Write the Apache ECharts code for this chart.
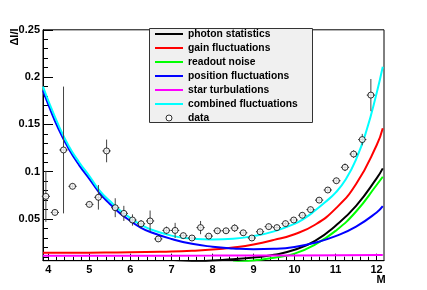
<!DOCTYPE html>
<html><head><meta charset="utf-8">
<script src="https://cdn.jsdelivr.net/npm/echarts@6/dist/echarts.min.js"></script>
<style>html,body{margin:0;padding:0;background:#fff}#c{width:427px;height:290px}</style>
</head><body><div id="c"></div>
<script>
// Curves: [M, ΔI/I]
const photonStats = [[7.0,0.0035],[7.5,0.0046],[8.0,0.0062],[8.5,0.0075],[9.0,0.0093],[9.5,0.0122],[10.0,0.0175],[10.5,0.027],[11.0,0.043],[11.5,0.064],[12.0,0.093],[12.15,0.1036]];
const gainFluct = [[3.87,0.0143],[5.0,0.0145],[6.0,0.0148],[7.0,0.0158],[7.5,0.0166],[8.0,0.0178],[8.5,0.020],[9.0,0.0232],[9.5,0.028],[10.0,0.034],[10.5,0.044],[11.0,0.061],[11.5,0.087],[12.0,0.128],[12.15,0.146]];
const readoutNoise = [[8.5,0.0042],[9.0,0.0063],[9.5,0.009],[10.0,0.0135],[10.5,0.023],[11.0,0.0375],[11.5,0.058],[12.0,0.086],[12.15,0.0947]];
const positionFluct = [[3.87,0.186],[4.0,0.171],[4.25,0.145],[4.5,0.124],[4.75,0.107],[5.0,0.0925],[5.25,0.0775],[5.5,0.066],[5.75,0.056],[6.0,0.048],[6.25,0.041],[6.5,0.036],[7.0,0.029],[7.5,0.0238],[8.0,0.0208],[8.5,0.019],[9.0,0.018],[9.5,0.0185],[10.0,0.0205],[10.5,0.025],[11.0,0.032],[11.5,0.042],[12.0,0.057],[12.15,0.0637]];
const starTurb = [[3.87,0.0112],[6.0,0.0113],[8.0,0.0114],[10.0,0.0116],[12.15,0.0119]];
const combinedFluct = [[3.87,0.190],[4.0,0.175],[4.25,0.149],[4.5,0.127],[4.75,0.110],[5.0,0.0955],[5.25,0.080],[5.5,0.069],[5.75,0.059],[6.0,0.051],[6.25,0.044],[6.5,0.039],[7.0,0.0325],[7.5,0.0292],[8.0,0.0285],[8.5,0.0292],[9.0,0.032],[9.5,0.037],[10.0,0.045],[10.25,0.051],[10.5,0.059],[10.75,0.068],[11.0,0.078],[11.25,0.092],[11.5,0.113],[11.75,0.143],[12.0,0.183],[12.15,0.211]];

// Measured data
const dataM   = [3.94,4.16,4.37,4.59,5.00,5.22,5.42,5.63,5.84,6.05,6.26,6.48,6.68,6.88,7.09,7.29,7.50,7.71,7.91,8.12,8.33,8.54,8.75,8.96,9.16,9.37,9.57,9.78,9.98,10.19,10.39,10.60,10.81,11.02,11.23,11.44,11.65,11.86];
const dataV   = [0.074,0.057,0.123,0.0846,0.0655,0.073,0.122,0.062,0.056,0.049,0.045,0.048,0.029,0.038,0.038,0.0325,0.030,0.041,0.032,0.0376,0.0376,0.0405,0.0355,0.030,0.0366,0.042,0.041,0.0452,0.049,0.054,0.060,0.070,0.0807,0.0905,0.1047,0.1187,0.134,0.181];
const dataErr = [0.027,0.003,0.067,0.003,0.003,0.013,0.012,0.010,0.008,0.006,0.004,0.011,0.003,0.004,0.008,0.003,0.003,0.007,0.003,0.003,0.003,0.004,0.003,0.003,0.003,0.003,0.003,0.003,0.003,0.003,0.003,0.003,0.003,0.003,0.004,0.004,0.006,0.017];
const dataXErr = 0.1;

// Axes / ticks
const xMajor = [4,5,6,7,8,9,10,11,12];
const xMinor = []; for (let i = 0; i <= 40; i++) xMinor.push(Math.round((4 + i*0.2)*10)/10);
const yMajor = [0.05,0.1,0.15,0.2,0.25];
const yMinor = []; for (let i = 1; i <= 25; i++) yMinor.push(i/100);
const xMin = 3.87, xMax = 12.18, yMin = 0.006, yMax = 0.25;

const FF = '"Liberation Sans", Arial, Helvetica, sans-serif';
const names = ['photon statistics','gain fluctuations','readout noise','position fluctuations','star turbulations','combined fluctuations','data'];
const colors = ['#000000','#ff0000','#00ff00','#0000ff','#ff00ff','#00ffff'];
const curves = [photonStats, gainFluct, readoutNoise, positionFluct, starTurb, combinedFluct];

const chart = echarts.init(document.getElementById('c'), null, {renderer:'canvas'});
const lab = {fontFamily:FF, fontWeight:'bold', fontSize:11, color:'#000'};
const series = curves.map((d,i)=>({
  name:names[i], type:'line', data:d, smooth:true, symbol:'none', clip:true,
  lineStyle:{color:colors[i], width:2}, itemStyle:{color:colors[i]}, z:2+i*0.1, silent:true, animation:false
}));
series.push({
  type:'custom', name:'err', z:3, silent:true, animation:false,
  data: dataM.map((m,i)=>[m, dataV[i], dataErr[i]]),
  renderItem:(params, api)=>{
    const x = api.value(0), y = api.value(1), e = api.value(2);
    const a = api.coord([x, y+e]), b = api.coord([x, y-e]);
    const l = api.coord([x-dataXErr, y]), r = api.coord([x+dataXErr, y]);
    return {type:'group', children:[
      {type:'line', shape:{x1:a[0],y1:a[1],x2:b[0],y2:b[1]}, style:{stroke:'#444', lineWidth:1}},
      {type:'line', shape:{x1:l[0],y1:l[1],x2:r[0],y2:r[1]}, style:{stroke:'#333', lineWidth:1}}
    ]};
  }
});
series.push({
  name:'data', type:'scatter', data: dataM.map((m,i)=>[m, dataV[i]]), symbol:'circle', symbolSize:6,
  itemStyle:{color:'#ffffff', borderColor:'#000000', borderWidth:1}, z:5, silent:true, animation:false
});

const barIcon = 'path://M0,0 M28,6 M0,2 L28,2 L28,4 L0,4 Z';
const legendData = names.map(n => n === 'data'
  ? {name:n, icon:'circle', itemStyle:{color:'#ffffff', borderColor:'#000000', borderWidth:1}}
  : {name:n, icon:barIcon});

chart.setOption({
  animation:false,
  backgroundColor:'#ffffff',
  grid:{left:43, right:43, top:29.8, bottom:29.3, show:true, borderColor:'#000', borderWidth:1, backgroundColor:'transparent'},
  xAxis:[
    {type:'value', min:xMin, max:xMax, position:'bottom',
     axisLine:{show:true, onZero:false, lineStyle:{color:'#000', width:1}},
     axisTick:{show:true, inside:true, length:7, customValues:xMajor, lineStyle:{color:'#000'}},
     axisLabel:Object.assign({customValues:xMajor, margin:4}, lab),
     splitLine:{show:false}},
    {type:'value', min:xMin, max:xMax, position:'bottom',
     axisLine:{show:false}, axisTick:{show:true, inside:true, length:4, customValues:xMinor, lineStyle:{color:'#000'}},
     axisLabel:{show:false}, splitLine:{show:false}}
  ],
  yAxis:[
    {type:'value', min:yMin, max:yMax, position:'left',
     axisLine:{show:true, onZero:false, lineStyle:{color:'#000', width:1}},
     axisTick:{show:true, inside:true, length:10, customValues:yMajor, lineStyle:{color:'#000'}},
     axisLabel:Object.assign({customValues:yMajor, margin:3}, lab),
     splitLine:{show:false}},
    {type:'value', min:yMin, max:yMax, position:'left', offset:0,
     axisLine:{show:false}, axisTick:{show:true, inside:true, length:5, customValues:yMinor, lineStyle:{color:'#000'}},
     axisLabel:{show:false}, splitLine:{show:false}}
  ],
  legend:{
    orient:'vertical', left:155, top:27, padding:0, itemGap:0, itemWidth:28, itemHeight:6,
    data:legendData, selectedMode:false, z:10,
    textStyle:{fontFamily:FF, fontWeight:'bold', fontSize:10.3, color:'#000', lineHeight:14}
  },
  graphic:[
    {type:'rect', z:5, shape:{x:149.5, y:28.5, width:163, height:94}, style:{fill:'#f0f0f0', stroke:'#333', lineWidth:1}},
    {type:'text', z:5, x:15, y:37, rotation:Math.PI/2, style:{text:'ΔI/I', font:'bold 11px ' + FF, align:'center', verticalAlign:'middle', fill:'#000'}},
    {type:'text', z:5, x:381, y:280, style:{text:'M', font:'bold 11px ' + FF, align:'center', verticalAlign:'middle', fill:'#000'}}
  ],
  series: series
});
</script></body></html>
